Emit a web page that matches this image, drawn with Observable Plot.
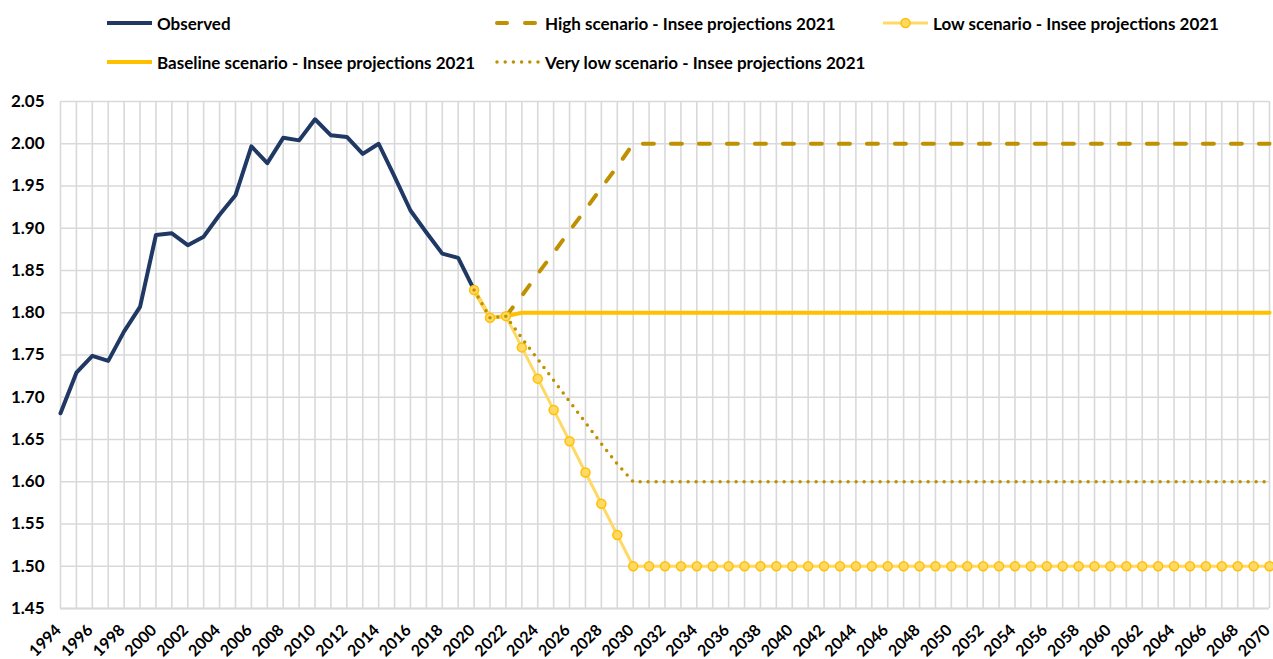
<!DOCTYPE html>
<html><head><meta charset="utf-8">
<script src="https://cdn.jsdelivr.net/npm/d3@7"></script>
<script src="https://cdn.jsdelivr.net/npm/@observablehq/plot@0.6"></script>
<style>
body{margin:0;background:#fff;font-family:Lato, "DejaVu Sans", sans-serif;}
#legend{position:relative;width:1273px;height:80px;}
.item{position:absolute;display:flex;align-items:center;font-weight:700;font-size:17px;color:#000;white-space:nowrap;height:20px;}
.item span{margin-left:4px;}
#chart svg{display:block;}
</style></head><body>
<div id="legend"></div><div id="chart"></div>
<script>
// ---- Data ----
const observedStart = 1994;
const observed = [1.681,1.729,1.749,1.743,1.778,1.807,1.892,1.894,1.880,1.890,1.916,1.939,1.997,1.977,2.007,2.004,2.029,2.010,2.008,1.988,2.000,1.961,1.921,1.895,1.870,1.865,1.827];

const baselineStart = 2020;
const baseline = [1.827,1.794,1.796,1.80,1.80,1.80,1.80,1.80,1.80,1.80,1.80,1.80,1.80,1.80,1.80,1.80,1.80,1.80,1.80,1.80,1.80,1.80,1.80,1.80,1.80,1.80,1.80,1.80,1.80,1.80,1.80,1.80,1.80,1.80,1.80,1.80,1.80,1.80,1.80,1.80,1.80,1.80,1.80,1.80,1.80,1.80,1.80,1.80,1.80,1.80,1.80];

const highStart = 2022;
const high = [1.796,1.82,1.846,1.871,1.897,1.922,1.948,1.973,2.00,2.00,2.00,2.00,2.00,2.00,2.00,2.00,2.00,2.00,2.00,2.00,2.00,2.00,2.00,2.00,2.00,2.00,2.00,2.00,2.00,2.00,2.00,2.00,2.00,2.00,2.00,2.00,2.00,2.00,2.00,2.00,2.00,2.00,2.00,2.00,2.00,2.00,2.00,2.00,2.00];

const lowStart = 2020;
const low = [1.827,1.794,1.796,1.759,1.722,1.685,1.648,1.611,1.574,1.537,1.50,1.50,1.50,1.50,1.50,1.50,1.50,1.50,1.50,1.50,1.50,1.50,1.50,1.50,1.50,1.50,1.50,1.50,1.50,1.50,1.50,1.50,1.50,1.50,1.50,1.50,1.50,1.50,1.50,1.50,1.50,1.50,1.50,1.50,1.50,1.50,1.50,1.50,1.50,1.50,1.50];

const veryLowStart = 2020;
const veryLow = [1.827,1.794,1.796,1.770,1.745,1.720,1.695,1.670,1.645,1.621,1.60,1.60,1.60,1.60,1.60,1.60,1.60,1.60,1.60,1.60,1.60,1.60,1.60,1.60,1.60,1.60,1.60,1.60,1.60,1.60,1.60,1.60,1.60,1.60,1.60,1.60,1.60,1.60,1.60,1.60,1.60,1.60,1.60,1.60,1.60,1.60,1.60,1.60,1.60,1.60,1.60];

const yTicks = [1.45,1.50,1.55,1.60,1.65,1.70,1.75,1.80,1.85,1.90,1.95,2.00,2.05];
const xTickYears = [1994,1996,1998,2000,2002,2004,2006,2008,2010,2012,2014,2016,2018,2020,2022,2024,2026,2028,2030,2032,2034,2036,2038,2040,2042,2044,2046,2048,2050,2052,2054,2056,2058,2060,2062,2064,2066,2068,2070];

const seriesNames = ["Observed","High scenario - Insee projections 2021","Low scenario - Insee projections 2021","Baseline scenario - Insee projections 2021","Very low scenario - Insee projections 2021"];

// ---- Build tables ----
const toRows = (start, vals) => vals.map((v, i) => ({year: start + i, value: v}));
const obsRows = toRows(observedStart, observed);
const baseRows = toRows(baselineStart, baseline);
const highRows = toRows(highStart, high);
const lowRows = toRows(lowStart, low);
const vlowRows = toRows(veryLowStart, veryLow);
const gridYears = d3.range(1994, 2071);

const C = {obs:"#203864", high:"#BF9000", base:"#FFC000", lowLine:"#FFD966", lowStroke:"#FFC000", vlow:"#BF9000"};

// ---- Legend ----
const legendSpec = [
  {name: seriesNames[0], x: 107, y: 23, kind: "obs"},
  {name: seriesNames[1], x: 495, y: 23, kind: "high"},
  {name: seriesNames[2], x: 883, y: 23, kind: "low"},
  {name: seriesNames[3], x: 107, y: 62, kind: "base"},
  {name: seriesNames[4], x: 495, y: 62, kind: "vlow"}
];
const legend = document.getElementById("legend");
for (const it of legendSpec) {
  const div = document.createElement("div");
  div.className = "item";
  div.style.left = it.x + "px";
  div.style.top = (it.y - 10) + "px";
  let s = "";
  if (it.kind === "obs") s = `<line x1="0" x2="45" y1="10" y2="10" stroke="${C.obs}" stroke-width="4"/>`;
  if (it.kind === "base") s = `<line x1="0" x2="45" y1="10" y2="10" stroke="${C.base}" stroke-width="4"/>`;
  if (it.kind === "high") s = `<line x1="2" x2="45" y1="10" y2="10" stroke="${C.high}" stroke-width="4" stroke-linecap="round" stroke-dasharray="10 18"/>`;
  if (it.kind === "vlow") s = `<line x1="2" x2="45" y1="10" y2="10" stroke="${C.vlow}" stroke-width="3.5" stroke-linecap="round" stroke-dasharray="0 8.2"/>`;
  if (it.kind === "low") s = `<line x1="0" x2="45" y1="10" y2="10" stroke="${C.lowLine}" stroke-width="3"/><circle cx="22.5" cy="10" r="4.5" fill="${C.lowLine}" stroke="${C.lowStroke}" stroke-width="1.5"/>`;
  div.innerHTML = `<svg width="46" height="20">${s}</svg><span>${it.name}</span>`;
  legend.appendChild(div);
}

// ---- Chart ----
const chart = Plot.plot({
  width: 1273, height: 579,
  marginTop: 21, marginBottom: 51, marginLeft: 60, marginRight: 4,
  style: {fontFamily: "Lato, 'DejaVu Sans', sans-serif", fontWeight: 700, fontSize: "17px", color: "#000", background: "#fff", overflow: "visible"},
  x: {domain: [1994, 2070]},
  y: {domain: [1.45, 2.05]},
  marks: [
    Plot.gridX(gridYears, {stroke: "#d9d9d9", strokeOpacity: 1, strokeWidth: 1.6}),
    Plot.gridY(yTicks, {stroke: "#d9d9d9", strokeOpacity: 1, strokeWidth: 1.6}),
    Plot.ruleY([1.45], {stroke: "#d9d9d9", strokeWidth: 2.2}),
    Plot.axisY(yTicks, {tickSize: 0, tickPadding: 16, tickFormat: d3.format(".2f"), fontSize: 17, fontWeight: 700, label: null}),
    Plot.axisX(xTickYears, {tickSize: 0, tickPadding: 19, tickRotate: -45, dx: -2, tickFormat: d => String(d), fontSize: 16, fontWeight: 700, label: null}),
    Plot.line(obsRows, {x: "year", y: "value", stroke: C.obs, strokeWidth: 4, strokeLinejoin: "round"}),
    Plot.line(baseRows, {x: "year", y: "value", stroke: C.base, strokeWidth: 4}),
    Plot.line(highRows, {x: "year", y: "value", stroke: C.high, strokeWidth: 4, strokeLinecap: "round", strokeDasharray: "11 17"}),
    Plot.line(lowRows, {x: "year", y: "value", stroke: C.lowLine, strokeWidth: 3}),
    Plot.dot(lowRows, {x: "year", y: "value", r: 4.5, fill: C.lowLine, stroke: C.lowStroke, strokeWidth: 1.5}),
    Plot.line(vlowRows, {x: "year", y: "value", stroke: C.vlow, strokeWidth: 3.5, strokeLinecap: "round", strokeDasharray: "0 8"})
  ]
});
document.getElementById("chart").appendChild(chart);
</script>
</body></html>
